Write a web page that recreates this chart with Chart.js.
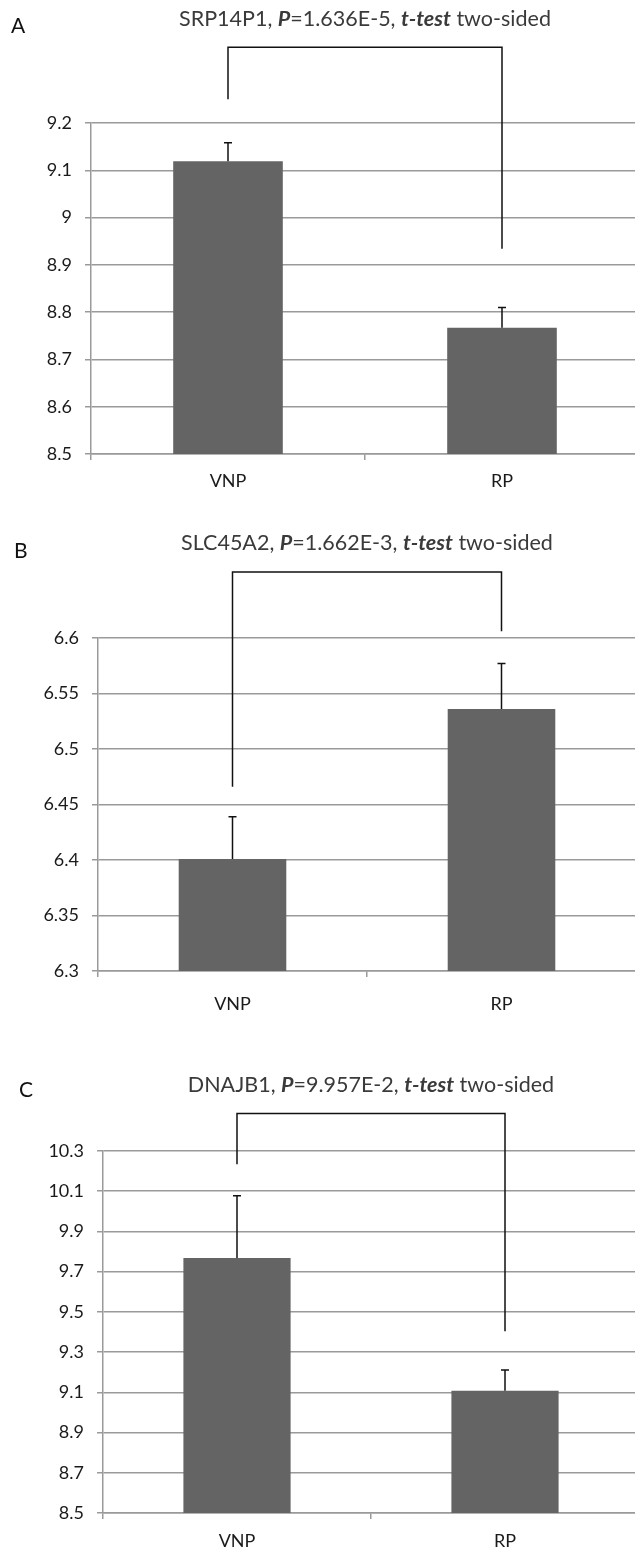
<!DOCTYPE html>
<html lang="en">
<head>
  <meta charset="UTF-8" />
  <title>SRP14P1 / SLC45A2 / DNAJB1 – VNP vs RP</title>
  <script src="https://cdn.jsdelivr.net/npm/chart.js"></script>
  <style>
    html, body {
      margin: 0;
      padding: 0;
      background: #fff;
      overflow: hidden;
    }
    .panel {
      position: absolute;
      left: 0;
    }
  </style>
</head>
<body>
  <canvas id="chartA" class="panel" style="top:0px" width="639" height="505"></canvas>
  <canvas id="chartB" class="panel" style="top:505px" width="636" height="515"></canvas>
  <canvas id="chartC" class="panel" style="top:1020px" width="639" height="540"></canvas>

<script>
  const categories = ["VNP", "RP"];

  // A: SRP14P1
  const aGene = "SRP14P1";
  const aPValue = "1.636E-5";
  const aMeans = [9.119, 8.767];
  const aErrors = [0.039, 0.043];
  const aAxis = [8.5, 9.2, 0.1];          // min, max, step
  const aBracket = [9.36, 9.25, 8.934];   // top, left end, right end

  // B: SLC45A2
  const bGene = "SLC45A2";
  const bPValue = "1.662E-3";
  const bMeans = [6.401, 6.536];
  const bErrors = [0.038, 0.041];
  const bAxis = [6.3, 6.6, 0.05];
  const bBracket = [6.6595, 6.466, 6.606];

  // C: DNAJB1
  const cGene = "DNAJB1";
  const cPValue = "9.957E-2";
  const cMeans = [9.768, 9.108];
  const cErrors = [0.31, 0.103];
  const cAxis = [8.5, 10.3, 0.2];
  const cBracket = [10.487, 10.234, 9.404];

  const FONT = "Lato, 'Open Sans', sans-serif";
  const GRID = "#9a9a9a";

  // error bars, significance bracket, title and panel letter
  function extrasPlugin(letter, gene, pval, layout) {
    return {
      id: "extras",
      afterDatasetsDraw(chart) {
        const ctx = chart.ctx;
        const y = chart.scales.y;
        const ds = chart.data.datasets[0];
        const bars = chart.getDatasetMeta(0).data;

        ctx.save();
        ctx.strokeStyle = "#111";
        ctx.lineWidth = 1.5;
        bars.forEach((bar, i) => {
          const top = y.getPixelForValue(ds.data[i] + ds.errorBars[i]);
          ctx.beginPath();
          ctx.moveTo(bar.x, bar.y);
          ctx.lineTo(bar.x, top);
          ctx.moveTo(bar.x - 4, top);
          ctx.lineTo(bar.x + 4, top);
          ctx.stroke();
        });

        const [bt, bl, br] = ds.bracket;
        ctx.beginPath();
        ctx.moveTo(bars[0].x, y.getPixelForValue(bl));
        ctx.lineTo(bars[0].x, y.getPixelForValue(bt));
        ctx.lineTo(bars[1].x, y.getPixelForValue(bt));
        ctx.lineTo(bars[1].x, y.getPixelForValue(br));
        ctx.stroke();

        // mixed-style title
        const size = 21.5;
        const plain = `${size}px ${FONT}`;
        const emph = `italic bold ${size}px ${FONT}`;
        const parts = [
          [gene + ", ", plain],
          ["P", emph],
          ["=" + pval + ", ", plain],
          ["t-test", emph],
          [" two-sided", plain]
        ];
        let total = 0;
        parts.forEach(p => { ctx.font = p[1]; total += ctx.measureText(p[0]).width; });
        const mid = (chart.chartArea.left + chart.chartArea.right) / 2;
        let x = mid - total / 2;
        ctx.fillStyle = "#3a3a3a";
        ctx.textBaseline = "alphabetic";
        ctx.textAlign = "left";
        parts.forEach(p => {
          ctx.font = p[1];
          ctx.fillText(p[0], x, layout.titleBase);
          x += ctx.measureText(p[0]).width;
        });

        ctx.font = `21px ${FONT}`;
        ctx.fillStyle = "#111";
        ctx.fillText(letter, layout.letterX, layout.letterBase);
        ctx.restore();
      }
    };
  }

  function makePanel(id, letter, gene, pval, means, errors, axis, bracket, layout) {
    const ctx = document.getElementById(id).getContext("2d");
    return new Chart(ctx, {
      type: "bar",
      data: {
        labels: categories,
        datasets: [{
          data: means,
          errorBars: errors,
          bracket: bracket,
          backgroundColor: "#646464",
          borderWidth: 0,
          categoryPercentage: 1,
          barPercentage: 0.4
        }]
      },
      options: {
        responsive: false,
        animation: false,
        layout: {
          padding: { top: layout.padTop, bottom: layout.padBottom, left: 0, right: 0 }
        },
        plugins: {
          legend: { display: false },
          tooltip: { enabled: false }
        },
        scales: {
          x: {
            grid: {
              offset: true,
              drawOnChartArea: false,
              drawTicks: true,
              tickLength: 6,
              color: GRID,
              lineWidth: 1.5
            },
            border: { color: GRID, width: 1.5 },
            ticks: {
              color: "#1a1a1a",
              padding: layout.xPad,
              font: { family: FONT, size: 18 }
            },
            afterFit(scale) { scale.height = 40; }
          },
          y: {
            min: axis[0],
            max: axis[1],
            grid: {
              color: GRID,
              lineWidth: 1.5,
              tickLength: 6
            },
            border: { color: GRID, width: 1.5 },
            ticks: {
              stepSize: axis[2],
              color: "#1a1a1a",
              padding: 13,
              font: { family: FONT, size: 18 },
              callback: v => String(+v.toFixed(2))
            },
            afterFit(scale) { scale.width = layout.axisWidth; }
          }
        }
      },
      plugins: [extrasPlugin(letter, gene, pval, layout)]
    });
  }

  makePanel("chartA", "A", aGene, aPValue, aMeans, aErrors, aAxis, aBracket,
    { axisWidth: 91, padTop: 123, padBottom: 11, xPad: 10, titleBase: 26, letterX: 11, letterBase: 33 });
  makePanel("chartB", "B", bGene, bPValue, bMeans, bErrors, bAxis, bBracket,
    { axisWidth: 98, padTop: 133, padBottom: 9, xPad: 16, titleBase: 45, letterX: 14, letterBase: 53 });
  makePanel("chartC", "C", cGene, cPValue, cMeans, cErrors, cAxis, cBracket,
    { axisWidth: 103, padTop: 131, padBottom: 7, xPad: 11, titleBase: 72, letterX: 19, letterBase: 77 });
</script>
</body>
</html>
